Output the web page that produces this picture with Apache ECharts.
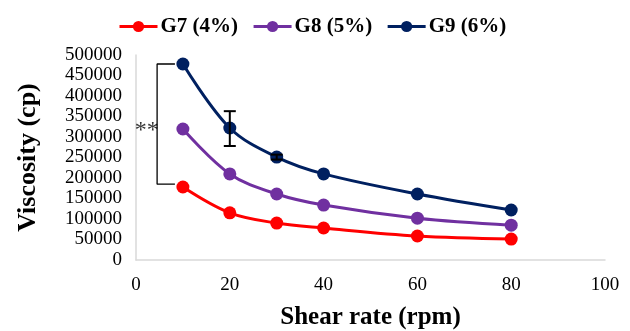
<!DOCTYPE html>
<html>
<head>
<meta charset="utf-8">
<script src="https://cdn.jsdelivr.net/npm/echarts@6/dist/echarts.min.js"></script>
<style>
  html, body { margin: 0; padding: 0; background: #fff; }
  #main { width: 630px; height: 331px; }
</style>
</head>
<body>
<div id="main"></div>
<script>
// shear rate (rpm)
var shearRate = [10, 20, 30, 40, 60, 80];
// viscosity (cp)
var g7 = [178000, 115000, 90000, 78000, 58500, 51000];
var g8 = [319500, 210000, 161000, 134000, 102000, 85000];
var g9 = [478000, 322000, 251000, 210000, 161000, 122000];
// error bars on G9: [x, low, high]
var g9Err = [[20, 278000, 363000], [30, 245000, 257000]];
// significance bracket (data coords)
var bracket = [[8.3, 478000], [4.5, 478000], [4.5, 185000], [8.3, 185000]];
var starPos = [2.3, 316000];

function pairs(xs, ys) {
  var out = [];
  for (var i = 0; i < xs.length; i++) out.push([xs[i], ys[i]]);
  return out;
}

var font = "'Liberation Serif', 'Times New Roman', serif";

function lineSeries(name, color, data) {
  return {
    name: name,
    type: "line",
    smooth: 0.35,
    data: pairs(shearRate, data),
    symbol: "circle",
    symbolSize: 13,
    lineStyle: { color: color, width: 3 },
    itemStyle: { color: color },
    z: 3
  };
}

var myChart = echarts.init(document.getElementById("main"));
myChart.setOption({
  animation: false,
  textStyle: { fontFamily: font },
  grid: { left: 136, right: 25, top: 55, bottom: 71, containLabel: false, outerBoundsMode: "none" },
  legend: {
    top: 11,
    left: 113,
    itemWidth: 38,
    itemHeight: 14,
    itemGap: 14,
    lineStyle: { width: 3 },
    data: ["G7 (4%)", "G8 (5%)", "G9 (6%)"],
    textStyle: { fontFamily: font, fontSize: 21, fontWeight: "bold", color: "#000", padding: [0, 0, 0, -2] }
  },
  xAxis: {
    type: "value",
    min: 0,
    max: 100,
    interval: 20,
    name: "Shear rate (rpm)",
    nameLocation: "middle",
    nameGap: 45,
    nameTextStyle: { fontFamily: font, fontSize: 25, fontWeight: "bold", color: "#000" },
    axisLine: { show: true, lineStyle: { color: "#d9d9d9", width: 1.5 } },
    axisTick: { show: false },
    splitLine: { show: false },
    axisLabel: { fontFamily: font, fontSize: 19, color: "#000", margin: 16 }
  },
  yAxis: {
    type: "value",
    min: 0,
    max: 500000,
    interval: 50000,
    name: "Viscosity (cp)",
    nameLocation: "middle",
    nameGap: 95,
    nameTextStyle: { fontFamily: font, fontSize: 26, fontWeight: "bold", color: "#000" },
    axisLine: { show: true, lineStyle: { color: "#d9d9d9", width: 1.5 } },
    axisTick: { show: false },
    splitLine: { show: false },
    axisLabel: {
      fontFamily: font, fontSize: 19, color: "#000", margin: 14,
      formatter: function (v) { return String(v); }
    }
  },
  series: [
    lineSeries("G7 (4%)", "#ff0000", g7),
    lineSeries("G8 (5%)", "#7030a0", g8),
    lineSeries("G9 (6%)", "#002060", g9),
    {
      type: "custom",
      name: "err",
      data: g9Err,
      z: 5,
      renderItem: function (params, api) {
        var x = api.value(0);
        var lo = api.coord([x, api.value(1)]);
        var hi = api.coord([x, api.value(2)]);
        var w = 6;
        var st = { stroke: "#000", lineWidth: 2 };
        return {
          type: "group",
          children: [
            { type: "line", shape: { x1: lo[0], y1: lo[1], x2: hi[0], y2: hi[1] }, style: st },
            { type: "line", shape: { x1: lo[0] - w, y1: lo[1], x2: lo[0] + w, y2: lo[1] }, style: st },
            { type: "line", shape: { x1: hi[0] - w, y1: hi[1], x2: hi[0] + w, y2: hi[1] }, style: st }
          ]
        };
      }
    },
    {
      type: "line",
      name: "bracket",
      data: bracket,
      symbol: "none",
      lineStyle: { color: "#000", width: 1.3 },
      silent: true,
      z: 1
    },
    {
      type: "scatter",
      name: "stars",
      data: [starPos],
      symbolSize: 0,
      label: {
        show: true,
        formatter: "**",
        position: "inside",
        fontFamily: font,
        fontSize: 24,
        color: "#000"
      }
    }
  ]
});
</script>
</body>
</html>
